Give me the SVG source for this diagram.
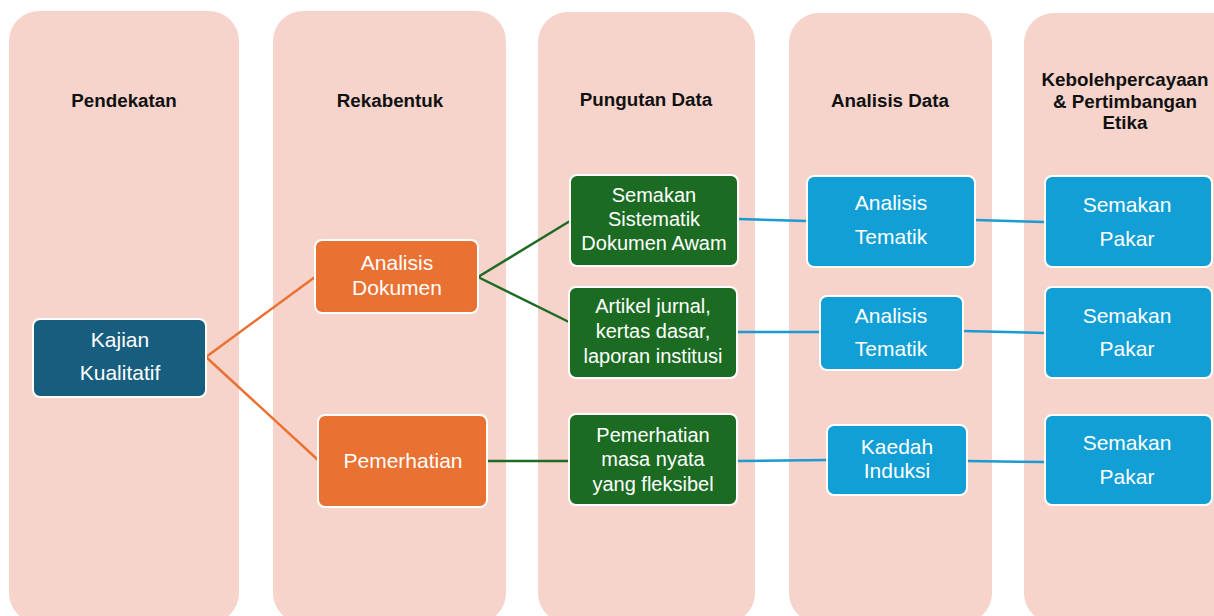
<svg xmlns="http://www.w3.org/2000/svg" width="1214" height="616" viewBox="0 0 1214 616">
<style>
.col{fill:#F6D4CB}
.hdr{font-family:"Liberation Sans",Arial,sans-serif;font-weight:bold;font-size:18.8px;fill:#111;text-anchor:middle}
.nt{font-family:"Liberation Sans",Arial,sans-serif;fill:#fff;text-anchor:middle;font-size:21px}
.gt{font-size:20px}
.box{stroke:#fff;stroke-width:2}
.teal{fill:#175E7E}
.org{fill:#E97132}
.grn{fill:#1B6B23}
.blu{fill:#129FD6}
.eo{stroke:#E97132;stroke-width:2.5;fill:none}
.eg{stroke:#1E6B25;stroke-width:2.5;fill:none}
.eb{stroke:#1B9BD1;stroke-width:2.5;fill:none}
</style>
<rect width="1214" height="616" fill="#fff"/>
<g id="columns">
<rect class="col" x="9" y="11" width="230" height="612" rx="30"/>
<rect class="col" x="273" y="11" width="233" height="612" rx="30"/>
<rect class="col" x="538" y="12" width="217" height="611" rx="30"/>
<rect class="col" x="789" y="13" width="203" height="610" rx="30"/>
<rect class="col" x="1024" y="13" width="220" height="610" rx="30"/>
</g>
<g id="headers">
<text class="hdr" x="124" y="107">Pendekatan</text>
<text class="hdr" x="390" y="107">Rekabentuk</text>
<text class="hdr" x="646" y="106">Pungutan Data</text>
<text class="hdr" x="890" y="107">Analisis Data</text>
<text class="hdr" x="1125" y="86">Kebolehpercayaan</text>
<text class="hdr" x="1125" y="108">&amp; Pertimbangan</text>
<text class="hdr" x="1125" y="129">Etika</text>
</g>
<g id="connectors">
<path class="eo" d="M206 357 L315 277"/>
<path class="eo" d="M206 357 L318 460"/>
<path class="eg" d="M478 277 L570 221"/>
<path class="eg" d="M478 277 L569 322"/>
<path class="eg" d="M487 461 L569 461"/>
<path class="eb" d="M738 219 L807 221"/>
<path class="eb" d="M975 220 L1045 222"/>
<path class="eb" d="M737 332 L820 332"/>
<path class="eb" d="M963 331 L1045 333"/>
<path class="eb" d="M737 461 L827 460"/>
<path class="eb" d="M967 461 L1045 462"/>
</g>
<g id="kajian">
<rect class="box teal" x="33" y="319" width="173" height="78" rx="7"/>
<text class="nt" x="120" y="347">Kajian</text>
<text class="nt" x="120" y="380">Kualitatif</text>
</g>
<g id="analisis-dokumen">
<rect class="box org" x="315" y="240" width="163" height="73" rx="7"/>
<text class="nt" x="397" y="270">Analisis</text>
<text class="nt" x="397" y="295">Dokumen</text>
</g>
<g id="pemerhatian">
<rect class="box org" x="318" y="415" width="169" height="92" rx="7"/>
<text class="nt" x="403" y="468">Pemerhatian</text>
</g>
<g id="semakan-sistematik">
<rect class="box grn" x="570" y="175" width="168" height="91" rx="7"/>
<text class="nt gt" x="654" y="202">Semakan</text>
<text class="nt gt" x="654" y="226">Sistematik</text>
<text class="nt gt" x="654" y="250">Dokumen Awam</text>
</g>
<g id="artikel">
<rect class="box grn" x="569" y="287" width="168" height="91" rx="7"/>
<text class="nt gt" x="653" y="313">Artikel jurnal,</text>
<text class="nt gt" x="653" y="338">kertas dasar,</text>
<text class="nt gt" x="653" y="363">laporan institusi</text>
</g>
<g id="pemerhatian-masa">
<rect class="box grn" x="569" y="414" width="168" height="91" rx="7"/>
<text class="nt gt" x="653" y="442">Pemerhatian</text>
<text class="nt gt" x="653" y="466">masa nyata</text>
<text class="nt gt" x="653" y="491">yang fleksibel</text>
</g>
<g id="analisis-tematik-1">
<rect class="box blu" x="807" y="176" width="168" height="91" rx="7"/>
<text class="nt" x="891" y="210">Analisis</text>
<text class="nt" x="891" y="244">Tematik</text>
</g>
<g id="analisis-tematik-2">
<rect class="box blu" x="820" y="296" width="143" height="74" rx="7"/>
<text class="nt" x="891" y="323">Analisis</text>
<text class="nt" x="891" y="356">Tematik</text>
</g>
<g id="kaedah-induksi">
<rect class="box blu" x="827" y="425" width="140" height="70" rx="7"/>
<text class="nt" x="897" y="454">Kaedah</text>
<text class="nt" x="897" y="478">Induksi</text>
</g>
<g id="semakan-pakar-1">
<rect class="box blu" x="1045" y="176" width="167" height="91" rx="7"/>
<text class="nt" x="1127" y="212">Semakan</text>
<text class="nt" x="1127" y="246">Pakar</text>
</g>
<g id="semakan-pakar-2">
<rect class="box blu" x="1045" y="287" width="167" height="91" rx="7"/>
<text class="nt" x="1127" y="323">Semakan</text>
<text class="nt" x="1127" y="356">Pakar</text>
</g>
<g id="semakan-pakar-3">
<rect class="box blu" x="1045" y="415" width="167" height="90" rx="7"/>
<text class="nt" x="1127" y="450">Semakan</text>
<text class="nt" x="1127" y="484">Pakar</text>
</g>
</svg>
